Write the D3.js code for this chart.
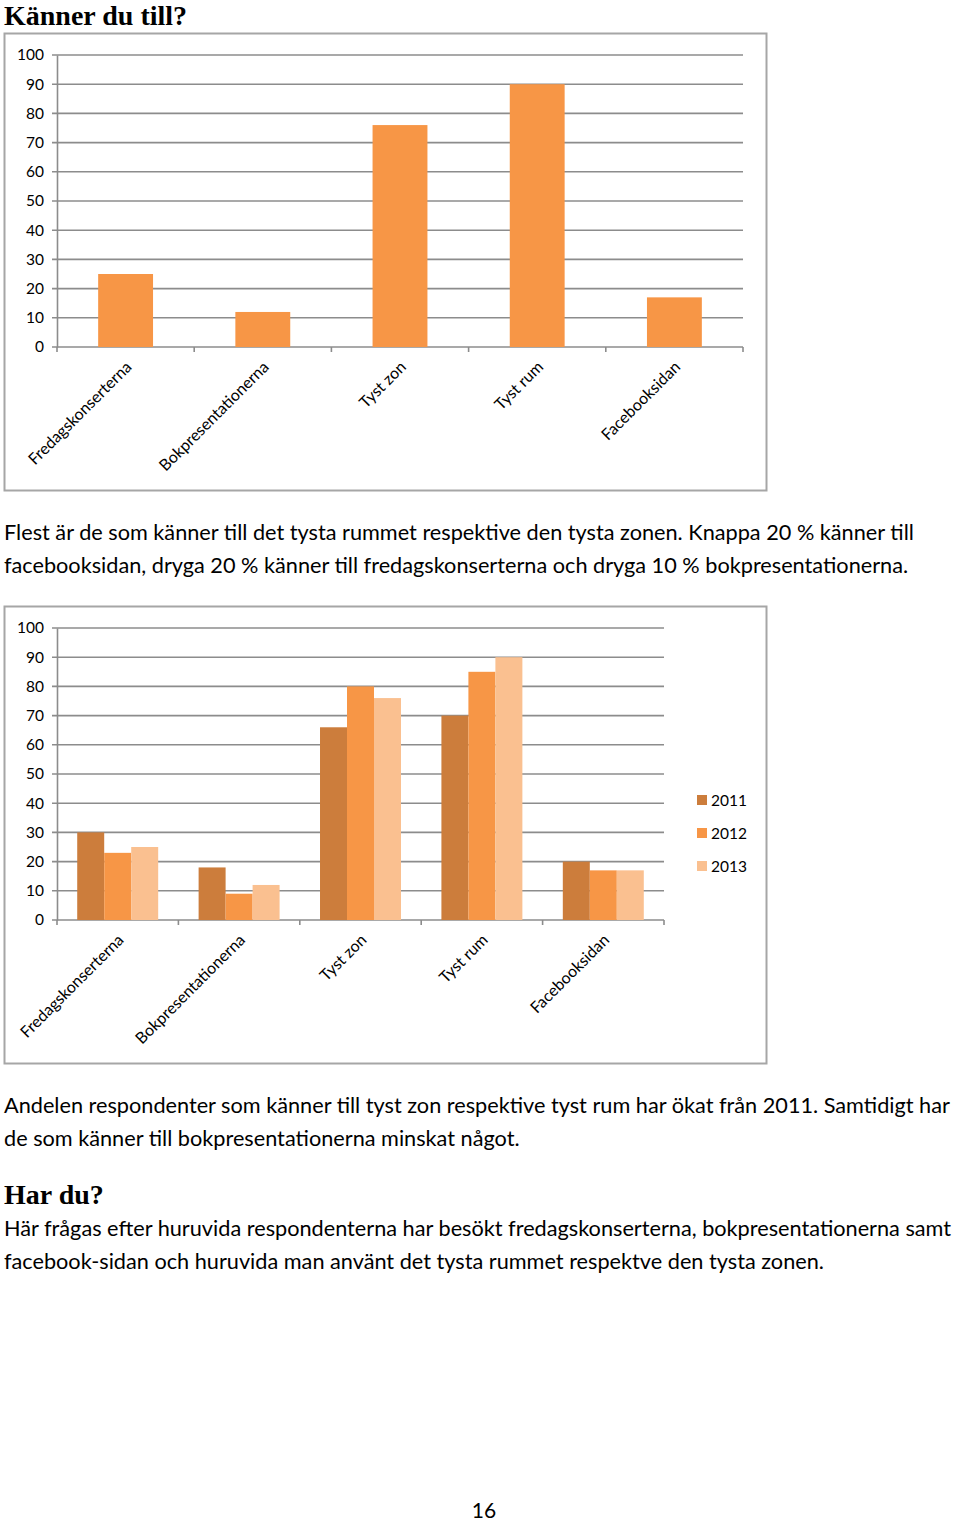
<!DOCTYPE html>
<html>
<head>
<meta charset="utf-8">
<script src="https://cdn.jsdelivr.net/npm/d3@7"></script>
<style>
  body { margin: 0; background: #fff; }
  svg { display: block; }
</style>
</head>
<body>
<script>
// page size
var width = 960;
var height = 1521;

// data
var categories = ['Fredagskonserterna', 'Bokpresentationerna', 'Tyst zon', 'Tyst rum', 'Facebooksidan'];
var knownValues = [25, 12, 76, 90, 17];
var years = ['2011', '2012', '2013'];
var values2011 = [30, 18, 66, 70, 20];
var values2012 = [23, 9, 80, 85, 17];
var values2013 = [25, 12, 76, 90, 17];
var yTicks = [0, 10, 20, 30, 40, 50, 60, 70, 80, 90, 100];
var yearColors = ['#cc7d3c', '#f79646', '#fac090'];

var bodyFont = 'Lato, "Open Sans", sans-serif';
var headFont = '"Liberation Serif", serif';

var svg = d3.select('body')
  .append('svg')
  .attr('width', width)
  .attr('height', height)
  .style('background', '#fff');

// draws the frame, grid, axes and category labels, returns scales
var drawFrame = function(top, plotRight) {
  var g = svg.append('g');
  g.append('rect')
    .attr('x', 4.5).attr('y', top + 0.5)
    .attr('width', 762).attr('height', 457)
    .attr('fill', '#fff')
    .attr('stroke', '#a6a6a6')
    .attr('stroke-width', 2);

  var x = d3.scaleBand().domain(categories).range([57, plotRight]);
  var y = d3.scaleLinear().domain([0, 100]).range([top + 314, top + 22]);

  // gridlines
  g.selectAll('.grid')
    .data(yTicks)
    .enter()
    .append('line')
    .attr('x1', 52).attr('x2', plotRight)
    .attr('y1', function(d) { return y(d); })
    .attr('y2', function(d) { return y(d); })
    .attr('stroke', '#8c8c8c')
    .attr('stroke-width', 1.6);

  var yAxis = g.append('g')
    .attr('transform', 'translate(57,0)')
    .call(d3.axisLeft(y).tickValues(yTicks).tickSize(0).tickPadding(13));
  yAxis.select('.domain').attr('stroke', '#8c8c8c').attr('stroke-width', 1.6);
  yAxis.selectAll('text')
    .attr('font-family', bodyFont)
    .attr('font-size', 15.5)
    .attr('fill', '#000');

  // category boundary ticks
  var bounds = categories.map(function(c) { return x(c); }).concat([plotRight]);
  g.selectAll('.ctick')
    .data(bounds)
    .enter()
    .append('line')
    .attr('x1', function(d) { return d; })
    .attr('x2', function(d) { return d; })
    .attr('y1', y(0)).attr('y2', y(0) + 5)
    .attr('stroke', '#8c8c8c')
    .attr('stroke-width', 1.6);

  g.selectAll('.clabel')
    .data(categories)
    .enter()
    .append('text')
    .attr('text-anchor', 'end')
    .attr('font-family', bodyFont)
    .attr('font-size', 16)
    .attr('transform', function(d) {
      return 'translate(' + (x(d) + x.bandwidth() / 2 + 7) + ',' + (y(0) + 21) + ') rotate(-45)';
    })
    .text(function(d) { return d; });

  return { g: g, x: x, y: y };
};

// CHART 1
var c1 = drawFrame(33, 743);
c1.g.selectAll('.bar')
  .data(knownValues)
  .enter()
  .append('rect')
  .attr('x', function(d, i) { return c1.x(categories[i]) + c1.x.bandwidth() * 0.3; })
  .attr('width', c1.x.bandwidth() * 0.4)
  .attr('y', function(d) { return c1.y(d); })
  .attr('height', function(d) { return c1.y(0) - c1.y(d); })
  .attr('fill', '#f79646');

// CHART 2
var c2 = drawFrame(606, 664);
var series = [values2011, values2012, values2013];
var inner = d3.scaleBand().domain(years).range([0, c2.x.bandwidth() * 0.667]);
var pad = c2.x.bandwidth() * 0.1665;

series.forEach(function(vals, s) {
  c2.g.selectAll('.bar' + s)
    .data(vals)
    .enter()
    .append('rect')
    .attr('x', function(d, i) { return c2.x(categories[i]) + pad + inner(years[s]); })
    .attr('width', inner.bandwidth())
    .attr('y', function(d) { return c2.y(d); })
    .attr('height', function(d) { return c2.y(0) - c2.y(d); })
    .attr('fill', yearColors[s]);
});

// legend
var legend = c2.g.selectAll('.legend')
  .data(years)
  .enter()
  .append('g')
  .attr('transform', function(d, i) { return 'translate(697,' + (795 + i * 33) + ')'; });
legend.append('rect')
  .attr('width', 10).attr('height', 10)
  .attr('fill', function(d, i) { return yearColors[i]; });
legend.append('text')
  .attr('x', 14).attr('y', 10.5)
  .attr('font-family', bodyFont)
  .attr('font-size', 15.5)
  .text(function(d) { return d; });

// TEXT
var heading = function(txt, yy) {
  svg.append('text')
    .attr('x', 4).attr('y', yy)
    .attr('font-family', headFont)
    .attr('font-weight', 'bold')
    .attr('font-size', 28)
    .text(txt);
};
var para = function(lines, yy) {
  lines.forEach(function(l, i) {
    svg.append('text')
      .attr('x', 4).attr('y', yy + i * 33)
      .attr('font-family', bodyFont)
      .attr('font-size', 21.7)
      .text(l);
  });
};

heading('Känner du till?', 25);
para(['Flest är de som känner till det tysta rummet respektive den tysta zonen. Knappa 20 % känner till',
      'facebooksidan, dryga 20 % känner till fredagskonserterna och dryga 10 % bokpresentationerna.'], 540);
para(['Andelen respondenter som känner till tyst zon respektive tyst rum har ökat från 2011. Samtidigt har',
      'de som känner till bokpresentationerna minskat något.'], 1113);
heading('Har du?', 1204);
para(['Här frågas efter huruvida respondenterna har besökt fredagskonserterna, bokpresentationerna samt',
      'facebook-sidan och huruvida man använt det tysta rummet respektve den tysta zonen.'], 1236);

svg.append('text')
  .attr('x', 484).attr('y', 1518)
  .attr('text-anchor', 'middle')
  .attr('font-family', bodyFont)
  .attr('font-size', 21)
  .text('16');
</script>
</body>
</html>
